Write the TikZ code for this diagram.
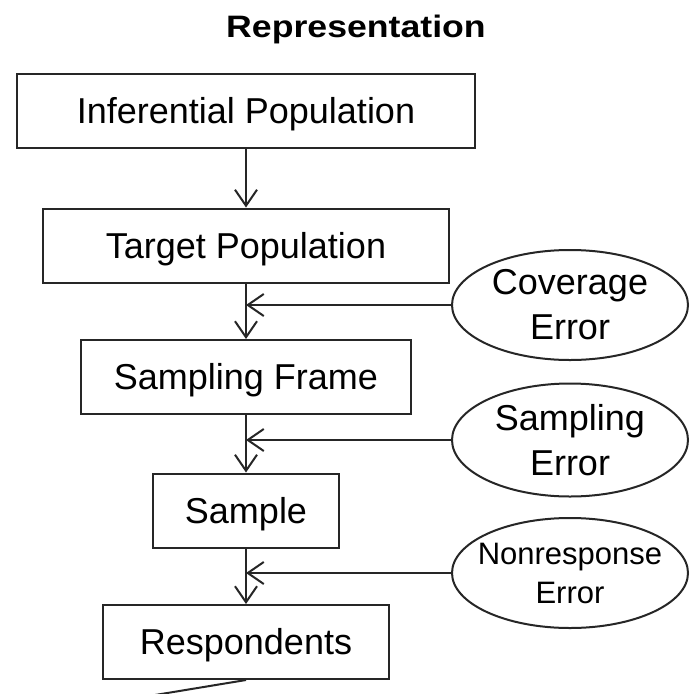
\documentclass[tikz,border=0pt]{standalone}
\usepackage{fontspec}
\setmainfont{Liberation Sans}
\newfontfamily\headfont{Liberation Sans}[FakeStretch=1.15]
\usetikzlibrary{arrows.meta,shapes.geometric}

\begin{document}
\begin{tikzpicture}[x=1pt,y=-1pt,
  ink/.style={draw=black!85, line width=2pt},
  stage/.style={ink, rectangle, inner sep=0pt, minimum height=74pt,
    font=\fontsize{36}{42}\selectfont, text height=25pt, text depth=0pt},
  errnode/.style={ink, ellipse, inner sep=0pt, minimum width=236pt,
    minimum height=110pt, align=center},
  flow/.style={draw=black!85, line width=2pt,
    -{Straight Barb[length=16pt,width=22pt,line width=2pt]}},
  plain/.style={draw=black!85, line width=2pt}
]
\fill[white] (0,0) rectangle (690,694);
\useasboundingbox (0,0) rectangle (690,694);

% heading
\node (title) at (356,37) [anchor=base,
  font=\headfont\bfseries\fontsize{31}{36}\selectfont] {Representation};

% the chain of populations
\node[stage, minimum width=458pt] (ip) at (246,111)   {Inferential Population};
\node[stage, minimum width=406pt] (tp) at (246,245.5) {Target Population};
\node[stage, minimum width=330pt] (sf) at (246,377)   {Sampling Frame};
\node[stage, minimum width=186pt] (sm) at (246,510.5) {Sample};
\node[stage, minimum width=286pt] (rs) at (246,642)   {Respondents};

% error sources
\node[errnode, font=\fontsize{36}{45}\selectfont] (ce) at (570,305) {Coverage\\Error};
\node[errnode, font=\fontsize{36}{45}\selectfont, minimum height=113pt] (se) at (570,440) {Sampling\\Error};
% the long word nearly fills this one, so its text box is shrunk
\node[errnode, font=\fontsize{31}{39}\selectfont, inner xsep=-16pt] (ne) at (570,573) {Nonresponse\\Error};

% vertical flow
\draw[flow] (ip.south) -- (tp.north);
\draw[flow] (tp.south) -- (sf.north);
\draw[flow] (sf.south) -- (sm.north);
\draw[flow] (sm.south) -- (rs.north);

% errors feeding into the flow
\draw[flow] (ce.west) -- (ce.west -| tp.south);
\draw[flow] (se.west) -- (se.west -| sf.south);
\draw[flow] (ne.west) -- (ne.west -| sm.south);

% link leaving the last stage
\coordinate (out) at (137,698);
\draw[plain] (rs.south) -- (out);
\end{tikzpicture}
\end{document}
